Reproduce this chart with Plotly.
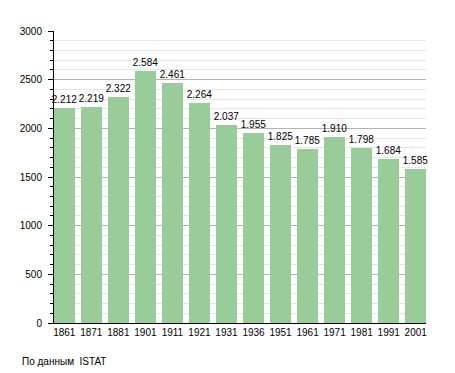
import plotly.graph_objects as go

years = ["1861", "1871", "1881", "1901", "1911", "1921", "1931", "1936",
         "1951", "1961", "1971", "1981", "1991", "2001"]
population = [2212, 2219, 2322, 2584, 2461, 2264, 2037, 1955,
              1825, 1785, 1910, 1798, 1684, 1585]
y_ticks = [0, 500, 1000, 1500, 2000, 2500, 3000]

labels = [f"{v:,}".replace(",", ".") for v in population]
xpos = list(range(len(years)))

fig = go.Figure()
fig.add_trace(go.Bar(
    x=xpos, y=population, width=0.76,
    marker=dict(color="#99cc99", line=dict(width=0)),
    text=labels, textposition="outside", constraintext="none",
    textfont=dict(size=10, color="black", family="Liberation Sans, Arial"),
    cliponaxis=False, hoverinfo="skip",
))

fig.update_layout(
    width=447, height=365,
    margin=dict(l=42, r=29, t=23, b=50),
    plot_bgcolor="white", paper_bgcolor="white",
    font=dict(family="Liberation Sans, Arial", size=10, color="black"),
    showlegend=False,
    bargap=0,
    xaxis=dict(
        range=[-0.38, len(years) - 1 + 0.38],
        tickmode="array", tickvals=xpos, ticktext=years,
        showline=True, linecolor="black", linewidth=1,
        ticks="", showgrid=False, zeroline=False,
        tickfont=dict(size=10),
    ),
    yaxis=dict(
        range=[0, 3000], tickmode="array", tickvals=y_ticks,
        showline=True, linecolor="black", linewidth=1,
        ticks="outside", ticklen=5, tickcolor="black",
        showgrid=True, gridcolor="#b3b3b3", gridwidth=1,
        zeroline=False,
        minor=dict(dtick=100, ticks="outside", ticklen=3, tickcolor="black",
                   showgrid=True, gridcolor="#e6e6e6", gridwidth=1),
        tickfont=dict(size=10),
        ticklabelstandoff=4,
    ),
    annotations=[dict(
        text="По данным\u00a0\u00a0ISTAT", xref="paper", yref="paper",
        x=-0.092, y=-0.1325, xanchor="left", yanchor="middle",
        showarrow=False, font=dict(size=10, color="black"),
    )],
)

fig.write_html("out.html")
